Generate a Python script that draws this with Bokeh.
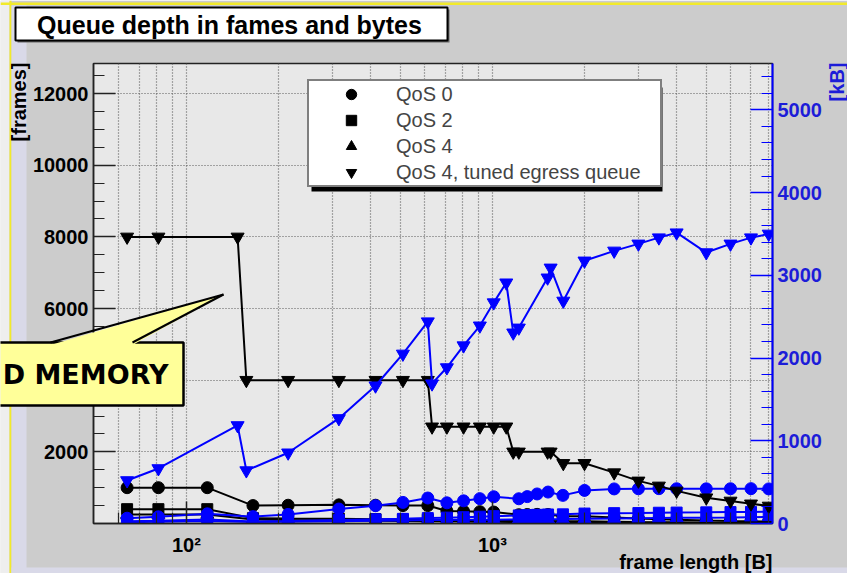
import math

from bokeh.plotting import figure
from bokeh.models import (Range1d, LinearAxis, FixedTicker, Legend, LegendItem,
                          BoxAnnotation, GridBox)
from bokeh.core.properties import value
from bokeh.embed import file_html
from bokeh.resources import INLINE

# ---------------------------------------------------------------- data
# QoS 4 with tuned egress queue
tuned_size = [64, 81, 147, 157, 215, 315, 415, 510, 615, 635, 710, 805, 910, 1010, 1110,
              1170, 1220, 1515, 1550, 1705, 2000, 2500, 3000, 3500, 4000, 5000, 6000, 7000, 8000]
tuned_frames = [8000, 8000, 8000, 4000, 4000, 4000, 4000, 4000, 4000, 2700, 2700, 2700, 2700, 2700, 2700,
                2000, 2000, 2000, 2000, 1680, 1680, 1420, 1190, 1050, 910, 720, 630, 550, 490]
tuned_kb = [520, 665, 1185, 640, 855, 1270, 1665, 2050, 2440, 1690, 1885, 2150, 2390, 2670, 2910,
            2305, 2365, 2970, 3090, 2690, 3175, 3295, 3380, 3455, 3515, 3275, 3380, 3455, 3500]

# QoS 0 / 2 / 4 with default queues
size = [64, 81, 117, 165, 215, 315, 415, 510, 615, 710, 805, 910, 1010, 1220, 1300, 1400,
        1520, 1700, 2000, 2500, 3000, 3500, 4000, 5000, 6000, 7000, 8000]
qos0_frames = [1000, 1000, 1000, 500, 510, 520, 510, 500, 500, 350, 340, 330, 320, 245, 250, 255,
               250, 200, 200, 168, 140, 120, 105, 84, 70, 60, 52]
qos0_kb = [64, 81, 117, 83, 110, 175, 215, 255, 308, 250, 274, 300, 323, 299, 325, 357,
           380, 340, 400, 418, 420, 421, 420, 419, 420, 421, 418]
qos2_frames = [400, 400, 400, 150, 140, 130, 120, 110, 105, 100, 95, 90, 88, 80, 78, 75,
               72, 65, 60, 50, 42, 37, 33, 27, 23, 20, 18]
qos2_kb = [26, 32, 47, 25, 30, 41, 50, 56, 65, 71, 76, 82, 89, 98, 101, 105,
           109, 111, 120, 125, 126, 130, 132, 135, 138, 140, 144]
qos4_frames = [250, 250, 250, 110, 100, 90, 80, 72, 66, 60, 55, 50, 46, 40, 38, 36,
               34, 31, 28, 24, 21, 19, 17, 14, 12, 11, 10]
qos4_kb = [16, 20, 29, 18, 22, 28, 33, 37, 41, 43, 44, 46, 46, 49, 49, 50,
           52, 53, 56, 60, 63, 66, 68, 70, 72, 77, 80]

legend_labels = ["QoS 0", "QoS 2", "QoS 4", "QoS 4, tuned egress queue"]

frame_ticks = [2000, 4000, 6000, 8000, 10000, 12000]
frame_minor = [v for v in range(500, 13000, 500) if v not in frame_ticks]
kb_ticks = [0, 1000, 2000, 3000, 4000, 5000]
kb_minor = [v for v in range(200, 5600, 200) if v not in kb_ticks]
x_ticks = [100, 1000]
x_tick_labels = {100: "10\u00b2", 1000: "10\u00b3"}
x_minor = [60, 70, 80, 90, 200, 300, 400, 500, 600, 700, 800, 900,
           2000, 3000, 4000, 5000, 6000, 7000, 8000]

# ---------------------------------------------------------------- layout
W, H = 847, 573
FL, FR, FT, FB = 93, 772, 63, 523      # plot frame edges (canvas px)

BLACK = "#000000"
BLUE = "#0000ff"
BLUE_TXT = "#1c1cd8"
CALLOUT = "#ffff99"
FONT = "Liberation Sans"


def sx(px):
    return px - FL


def sy(py):
    return FB - py


p = figure(width=W, height=H, x_axis_type="log",
           x_range=Range1d(49.7, 8230), y_range=Range1d(0, 12840),
           output_backend="svg", toolbar_location=None, title=None,
           min_border_left=FL, min_border_right=W - FR,
           min_border_top=FT, min_border_bottom=H - FB)
p.frame_align = False
p.extra_y_ranges = {"kb": Range1d(0, 5560)}

p.background_fill_color = "#e8e8e8"
p.border_fill_color = "#cccccc"
p.outline_line_color = "#222222"
p.outline_line_width = 1.5

# grid: dotted at every log decade subdivision and at labelled frame ticks
p.xgrid.ticker = FixedTicker(ticks=sorted(x_ticks + x_minor))
p.ygrid.ticker = FixedTicker(ticks=frame_ticks)
for g in (p.xgrid[0], p.ygrid[0]):
    g.grid_line_color = "#5a5a5a"
    g.grid_line_dash = "1 2"
    g.grid_line_width = 1.2


def style_axis(ax, color, label_color):
    ax.axis_line_color = color
    ax.axis_line_width = 1.5
    ax.major_tick_line_color = color
    ax.minor_tick_line_color = color
    ax.major_tick_line_width = 1.5
    ax.minor_tick_line_width = 1.2
    ax.major_tick_in = 22
    ax.major_tick_out = 0
    ax.minor_tick_in = 11
    ax.minor_tick_out = 0
    ax.major_label_text_font = FONT
    ax.major_label_text_font_style = "bold"
    ax.major_label_text_font_size = "20px"
    ax.major_label_text_color = label_color
    ax.major_label_standoff = 5


xax = p.below[0]
xax.ticker = FixedTicker(ticks=x_ticks, minor_ticks=x_minor)
xax.major_label_overrides = x_tick_labels
style_axis(xax, "#222222", BLACK)
xax.major_label_standoff = 10

yax = p.left[0]
yax.ticker = FixedTicker(ticks=frame_ticks, minor_ticks=frame_minor)
style_axis(yax, "#222222", BLACK)

rax = LinearAxis(y_range_name="kb", ticker=FixedTicker(ticks=kb_ticks, minor_ticks=kb_minor))
style_axis(rax, BLUE, BLUE_TXT)
rax.axis_line_width = 2
p.add_layout(rax, "right")


# ---------------------------------------------------------------- series
def series(x, y, marker, msize, color, kb=False):
    kw = {"y_range_name": "kb"} if kb else {}
    p.line(x, y, line_color=color, line_width=2, **kw)
    return p.scatter(x, y, marker=marker, size=msize, fill_color=color,
                     line_color=color, **kw)


r0 = series(size, qos0_frames, "circle", 12, BLACK)
r2 = series(size, qos2_frames, "square", 11, BLACK)
r4 = series(size, qos4_frames, "triangle", 13, BLACK)
series(size, qos0_kb, "circle", 12, BLUE, kb=True)
series(size, qos2_kb, "square", 11, BLUE, kb=True)
series(size, qos4_kb, "triangle", 13, BLUE, kb=True)
rt = series(tuned_size, tuned_frames, "inverted_triangle", 13, BLACK)
series(tuned_size, tuned_kb, "inverted_triangle", 13, BLUE, kb=True)

# ---------------------------------------------------------------- legend
p.add_layout(BoxAnnotation(left=sx(311), right=sx(662), top=sy(87), bottom=sy(191),
                           left_units="screen", right_units="screen",
                           top_units="screen", bottom_units="screen",
                           fill_color="black", fill_alpha=1, line_alpha=0))
legend = Legend(items=[LegendItem(label=lab, renderers=[r])
                       for lab, r in zip(legend_labels, [r0, r2, r4, rt])],
                location=(sx(307), sy(187)), padding=0, spacing=0, margin=0,
                glyph_width=84, glyph_height=26, label_height=26, label_width=264,
                label_standoff=3, label_text_font=FONT, label_text_font_size="20px",
                border_line_color="black", border_line_width=2,
                background_fill_color="white", background_fill_alpha=1.0)
p.add_layout(legend)

# ---------------------------------------------------------------- page layer
# A transparent sheet over the whole canvas, in pixel coordinates (y downwards),
# carrying the title pave, the axis titles, the callout and the slide border.
ov = figure(frame_width=W, frame_height=H, x_range=Range1d(0, W), y_range=Range1d(H, 0),
            output_backend="svg", toolbar_location=None, title=None,
            x_axis_location=None, y_axis_location=None,
            min_border_left=0, min_border_right=0, min_border_top=0, min_border_bottom=0)
ov.frame_align = False
ov.xgrid.visible = False
ov.ygrid.visible = False
ov.background_fill_alpha = 0
ov.border_fill_alpha = 0
ov.outline_line_color = None

# slide border
ov.quad(left=[0, 9, 11, 0, 11], right=[9, 11, 26, W, W], top=[0, 0, 5, 2, 567],
        bottom=[H, H, H, 4.5, H],
        fill_color=["#eeeeee", "#f2ea2a", "#d9d9e8", "#f2ea2a", "#d9d9e8"], line_color=None)

# title pave
ov.quad(left=[17], right=[449], top=[9], bottom=[42], fill_color="#666666", line_color=None)
ov.quad(left=[15], right=[447], top=[7], bottom=[40], fill_color="white",
        line_color="black", line_width=2)


def text(x, y, s, size, color=BLACK, align="left", angle=0.0, font=FONT):
    ov.text(x=[x], y=[y], text=[s], text_font=value(font), text_font_size=size,
            text_font_style="bold", text_color=color, text_align=align,
            text_baseline="middle", angle=angle)


text(229, 24, "Queue depth in fames and bytes", "25px", align="center")
text(18, 62, "[frames]", "20px", align="right", angle=math.pi / 2)
text(836, 62, "[kB]", "20px", color=BLUE_TXT, align="right", angle=math.pi / 2)
text(772, 561, "frame length [B]", "20px", align="right")

# callout
ov.quad(left=[-20], right=[183], top=[342], bottom=[405], fill_color=CALLOUT,
        line_color="black", line_width=2.5)
ov.patch(x=[50, 223, 132], y=[344.5, 294, 344.5], fill_color=CALLOUT, line_color=None)
ov.segment(x0=[50, 132], y0=[342, 342], x1=[223, 223], y1=[294, 294],
           line_color="black", line_width=2)
text(168, 374, "D MEMORY", "27px", align="right", font="DejaVu Sans")

layout = GridBox(children=[(p, 0, 0), (ov, 0, 0)])
open("out.html", "w").write(file_html(layout, INLINE))
